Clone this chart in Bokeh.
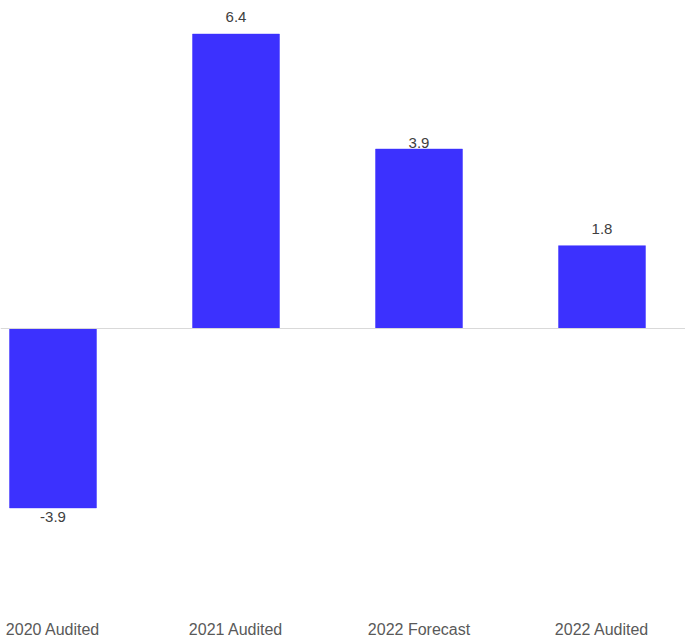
from bokeh.plotting import figure
from bokeh.models import ColumnDataSource, Range1d, Span, FixedTicker
from bokeh.core.properties import value
from bokeh.embed import file_html
from bokeh.resources import INLINE

categories = ["2020 Audited", "2021 Audited", "2022 Forecast", "2022 Audited"]
values = [-3.9, 6.4, 3.9, 1.8]
value_labels = ["-3.9", "6.4", "3.9", "1.8"]

# styling: pixel offsets of value labels from bar ends
label_offsets = [9, -17, -6, -17]

xs = list(range(len(categories)))
src = ColumnDataSource(dict(x=xs, top=values, lab=value_labels, off=label_offsets))

p = figure(frame_width=685, frame_height=600, output_backend="svg",
           toolbar_location=None, min_border=0,
           x_range=Range1d(-0.2869, 3.4563), y_range=Range1d(-5.913, 7.130))
p.outline_line_color = None
p.background_fill_color = "white"
p.border_fill_color = "white"
p.xgrid.visible = False
p.ygrid.visible = False
p.yaxis.visible = False

p.vbar(x="x", top="top", bottom=0, width=0.475, source=src,
       fill_color="#3c31fe", line_color="#3c31fe", line_width=0.5)

p.add_layout(Span(location=0, dimension="width", line_color="#d9d9d9", line_width=1))

p.text(x="x", y="top", text="lab", y_offset="off", source=src,
       text_align="center", text_baseline="middle",
       text_font=value("Liberation Sans"), text_font_size="15px",
       text_color="#404040")

ax = p.xaxis[0]
ax.ticker = FixedTicker(ticks=xs)
ax.major_label_overrides = {i: c for i, c in zip(xs, categories)}
ax.axis_line_color = None
ax.major_tick_line_color = None
ax.minor_tick_line_color = None
ax.major_tick_out = 0
ax.major_tick_in = 0
ax.major_label_standoff = 20
ax.major_label_text_font = "Liberation Sans"
ax.major_label_text_font_size = "16px"
ax.major_label_text_color = "#595959"

open("out.html", "w").write(file_html(p, INLINE))
